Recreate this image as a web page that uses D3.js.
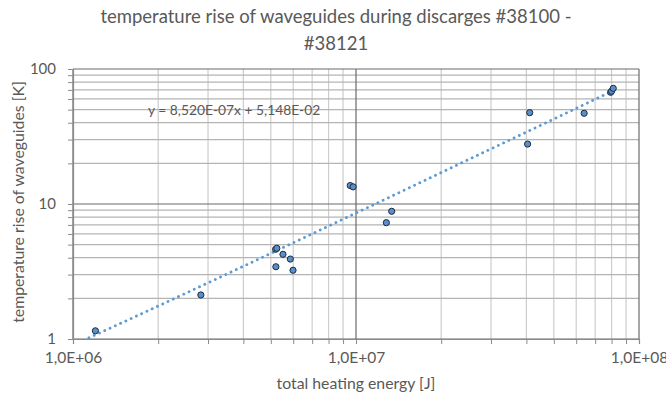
<!DOCTYPE html>
<html><head><meta charset="utf-8">
<script src="https://cdn.jsdelivr.net/npm/d3@7"></script>
<style>html,body{margin:0;padding:0;background:#fff;overflow:hidden}</style>
</head><body>
<svg id="chart" width="666" height="393"></svg>
<script>
const titleLines = ["temperature rise of waveguides during discarges #38100 -", "#38121"];
const xAxisTitle = "total heating energy [J]";
const yAxisTitle = "temperature rise of waveguides [K]";
const equationText = "y = 8,520E-07x + 5,148E-02";
const energyJ   = [1.20e6, 2.83e6, 5.20e6, 5.25e6, 5.52e6, 5.86e6, 5.21e6, 5.99e6, 9.54e6, 9.77e6, 1.28e7, 1.337e7, 4.04e7, 4.11e7, 6.40e7, 7.94e7, 8.00e7, 8.11e7];
const tempRiseK = [1.15, 2.12, 4.62, 4.70, 4.24, 3.91, 3.43, 3.23, 13.7, 13.4, 7.27, 8.83, 27.8, 47.5, 47.0, 67.2, 68.5, 71.9];
const trendSlope = 8.520e-7, trendIntercept = 5.148e-2;
const xTickValues = [1e6, 1e7, 1e8];
const xTickLabels = ["1,0E+06", "1,0E+07", "1,0E+08"];
const yTickValues = [1, 10, 100];
const yTickLabels = ["1", "10", "100"];

const svg = d3.select("#chart");
const font = "Lato, 'Open Sans', sans-serif";
const L = 73, R = 639, T = 69, B = 339;
const x = d3.scaleLog().domain([1e6, 1e8]).range([L, R]);
const y = d3.scaleLog().domain([1, 100]).range([B, T]);

const minorX = [], minorY = [];
for (const d of [1e6, 1e7]) for (let k = 2; k <= 9; k++) minorX.push(d * k);
for (const d of [1, 10]) for (let k = 2; k <= 9; k++) minorY.push(d * k);

const g = svg.append("g");
g.selectAll(".mgx").data(minorX).join("line")
  .attr("x1", d => x(d)).attr("x2", d => x(d)).attr("y1", T).attr("y2", B)
  .attr("stroke", "#cdcdcd").attr("stroke-width", 1.2);
g.selectAll(".mgy").data(minorY).join("line")
  .attr("y1", d => y(d)).attr("y2", d => y(d)).attr("x1", L).attr("x2", R)
  .attr("stroke", "#b4b4b4").attr("stroke-width", 1.2);
g.selectAll(".Mgx").data(xTickValues).join("line")
  .attr("x1", d => x(d)).attr("x2", d => x(d)).attr("y1", T).attr("y2", B)
  .attr("stroke", "#6a6a6a").attr("stroke-width", 1.2);
g.selectAll(".Mgy").data(yTickValues).join("line")
  .attr("y1", d => y(d)).attr("y2", d => y(d)).attr("x1", L).attr("x2", R)
  .attr("stroke", "#6a6a6a").attr("stroke-width", 1.2);

const xAxis = d3.axisBottom(x).tickValues(xTickValues.concat(minorX)).tickSize(5)
  .tickFormat(d => { const i = xTickValues.indexOf(d); return i >= 0 ? xTickLabels[i] : ""; });
const gx = svg.append("g").attr("transform", `translate(0,${B})`).call(xAxis);
gx.select(".domain").attr("stroke", "#8a8a8a").attr("stroke-width", 1.2);
gx.selectAll(".tick line").attr("stroke", "#8a8a8a");
gx.selectAll("text").attr("font-family", font).attr("font-size", 15.5).attr("fill", "#595959").attr("dy", "1.0em");

const yAxis = d3.axisLeft(y).tickValues(yTickValues.concat(minorY)).tickSize(5)
  .tickFormat(d => { const i = yTickValues.indexOf(d); return i >= 0 ? yTickLabels[i] : ""; });
const gy = svg.append("g").attr("transform", `translate(${L},0)`).call(yAxis);
gy.select(".domain").attr("stroke", "#8a8a8a").attr("stroke-width", 1.2);
gy.selectAll(".tick line").attr("stroke", "#8a8a8a");
gy.selectAll("text").attr("font-family", font).attr("font-size", 15).attr("fill", "#595959").attr("x", -17);

svg.append("clipPath").attr("id", "clip").append("rect")
  .attr("x", L).attr("y", T).attr("width", R - L).attr("height", B - T);
const trendX = [1e6, d3.max(energyJ)];
const trendPts = d3.range(0, 201).map(i => {
  const lx = Math.log10(trendX[0]) + (Math.log10(trendX[1]) - Math.log10(trendX[0])) * i / 200;
  const xv = Math.pow(10, lx);
  return [xv, trendSlope * xv + trendIntercept];
});
svg.append("path").attr("clip-path", "url(#clip)")
  .attr("d", d3.line().x(d => x(d[0])).y(d => y(d[1]))(trendPts))
  .attr("fill", "none").attr("stroke", "#5b9bd5").attr("stroke-width", 2.8)
  .attr("stroke-linecap", "round").attr("stroke-dasharray", "0.1 5.7");

svg.selectAll(".pt").data(energyJ).join("circle")
  .attr("cx", d => x(d)).attr("cy", (d, i) => y(tempRiseK[i])).attr("r", 3.1)
  .attr("fill", "#5b8fc9").attr("stroke", "#1d2b40").attr("stroke-width", 1);

svg.append("text").attr("x", 148).attr("y", 115).text(equationText)
  .attr("font-family", font).attr("font-size", 13.8).attr("fill", "#595959");

svg.selectAll(".title").data(titleLines).join("text")
  .attr("x", 336).attr("y", (d, i) => 23 + i * 27).attr("text-anchor", "middle")
  .attr("font-family", font).attr("font-size", 18.5).attr("fill", "#595959").text(d => d);
svg.append("text").attr("x", 356).attr("y", 389).attr("text-anchor", "middle")
  .attr("font-family", font).attr("font-size", 15.8).attr("fill", "#595959").text(xAxisTitle);
svg.append("text").attr("transform", "translate(24,202) rotate(-90)").attr("text-anchor", "middle")
  .attr("font-family", font).attr("font-size", 15.8).attr("fill", "#595959").text(yAxisTitle);
</script>
</body></html>
